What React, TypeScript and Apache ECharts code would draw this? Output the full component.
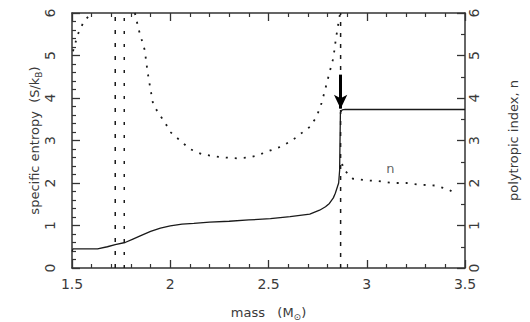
import React, { useEffect, useRef } from "react";
import * as echarts from "echarts";

// Specific entropy (left axis) vs mass
const entropyMass = [1.5, 1.505, 1.63, 1.68, 1.72, 1.77, 1.81, 1.85, 1.9, 1.95, 2.0, 2.06, 2.12, 2.2, 2.3, 2.4, 2.51, 2.61, 2.71, 2.76, 2.79, 2.81, 2.83, 2.84, 2.85, 2.857, 2.862, 2.864, 2.866, 2.875, 2.89, 3.5];
const entropyValue = [0.39, 0.45, 0.45, 0.5, 0.55, 0.6, 0.68, 0.76, 0.86, 0.94, 0.99, 1.03, 1.05, 1.08, 1.1, 1.13, 1.16, 1.21, 1.27, 1.36, 1.44, 1.52, 1.65, 1.76, 1.9, 2.0, 2.3, 3.0, 3.66, 3.72, 3.73, 3.73];

// Polytropic index n (right axis), three branches
const nLeftMass = [1.505, 1.53, 1.56, 1.6];
const nLeftValue = [5.1, 5.5, 5.8, 6.0];
const nMidMass = [1.82, 1.84, 1.87, 1.885, 1.9, 1.912, 1.938, 1.97, 2.0, 2.05, 2.1, 2.16, 2.22, 2.28, 2.34, 2.4, 2.45, 2.5, 2.56, 2.62, 2.67, 2.71, 2.745, 2.77, 2.79, 2.81, 2.83, 2.84, 2.85, 2.86, 2.865];
const nMidValue = [6.0, 5.6, 5.13, 4.6, 4.19, 3.88, 3.65, 3.45, 3.2, 3.0, 2.8, 2.68, 2.63, 2.6, 2.58, 2.6, 2.66, 2.75, 2.85, 3.0, 3.18, 3.32, 3.56, 3.88, 4.23, 4.59, 4.94, 5.29, 5.6, 5.88, 6.0];
const nRightMass = [2.875, 2.88, 2.93, 3.0, 3.05, 3.13, 3.2, 3.27, 3.35, 3.42, 3.44];
const nRightValue = [2.45, 2.33, 2.1, 2.06, 2.05, 2.0, 2.0, 1.96, 1.94, 1.84, 1.78];

// Vertical boundary markers (mass)
const boundaryMass = [1.72, 1.766, 2.867];
const boundaryDash = [[4, 9], [3, 10], [4, 7]];

// Arrow marking the jump
const arrowMass = 2.867;
const arrowFrom = 4.55;
const arrowTo = 3.75;

// "n" label location
const nLabelPos = [3.12, 2.33];

const xTicks = { min: 1.5, max: 3.5, interval: 0.5 };
const yTicks = { min: 0, max: 6, interval: 1 };

const FONT = "DejaVu Sans";
const TEXT = "#3a3a3a";
const INK = "#1a1a1a";

const zip = (a: number[], b: number[]) => a.map((v, i) => [v, b[i]]);

export default function App() {
  const ref = useRef<HTMLDivElement>(null);
  useEffect(() => {
    if (!ref.current) return;
    const chart = echarts.init(ref.current, undefined, { renderer: "svg" });
    const axisLine = { show: true, onZero: false, lineStyle: { color: "#333", width: 1.5 } };
    const nameRich = {
      a: { fontFamily: FONT, fontSize: 13, color: TEXT, lineHeight: 18, verticalAlign: "middle" },
      sub: { fontFamily: FONT, fontSize: 9, color: TEXT, lineHeight: 10, verticalAlign: "bottom" },
    };
    const xBase = {
      type: "value",
      min: xTicks.min,
      max: xTicks.max,
      interval: xTicks.interval,
      axisLine,
      axisTick: { show: true, inside: true, length: 8, lineStyle: { color: "#333", width: 1.3 } },
      minorTick: { show: true, splitNumber: 5, length: 4, lineStyle: { color: "#333", width: 1.2 } },
      splitLine: { show: false },
    };
    const yBase = {
      type: "value",
      min: yTicks.min,
      max: yTicks.max,
      interval: yTicks.interval,
      axisLine,
      axisTick: { show: true, inside: true, length: 8, lineStyle: { color: "#333", width: 1.3 } },
      splitLine: { show: false },
    };
    const series: any[] = [];
    boundaryMass.forEach((m, i) => {
      series.push({
        type: "line",
        xAxisIndex: 0,
        yAxisIndex: 0,
        data: [[m, yTicks.min], [m, yTicks.max]],
        showSymbol: false,
        symbol: "none",
        lineStyle: { color: INK, width: 1.5, type: boundaryDash[i] },
        silent: true,
      });
    });
    [
      [nLeftMass, nLeftValue],
      [nMidMass, nMidValue],
      [nRightMass, nRightValue],
    ].forEach(([mx, vy]) => {
      series.push({
        type: "line",
        xAxisIndex: 0,
        yAxisIndex: 1,
        data: zip(mx, vy),
        showSymbol: false,
        symbol: "none",
        lineStyle: { color: INK, width: 1.8, type: [2, 7] },
        silent: true,
      });
    });
    series.push({
      type: "line",
      xAxisIndex: 0,
      yAxisIndex: 0,
      data: zip(entropyMass, entropyValue),
      showSymbol: false,
      symbol: "none",
      lineStyle: { color: INK, width: 1.3 },
      silent: true,
      markLine: {
        silent: true,
        symbol: ["none", "arrow"],
        symbolSize: [10, 14],
        label: { show: false },
        lineStyle: { color: "#000", width: 3, type: "solid" },
        data: [[{ coord: [arrowMass, arrowFrom] }, { coord: [arrowMass, arrowTo] }]],
      },
    });
    series.push({
      type: "scatter",
      xAxisIndex: 0,
      yAxisIndex: 1,
      data: [nLabelPos],
      symbolSize: 1,
      itemStyle: { color: "rgba(0,0,0,0)" },
      label: { show: true, position: "inside", formatter: "n", fontFamily: FONT, fontSize: 13, color: TEXT },
      silent: true,
    });

    chart.setOption({
      animation: false,
      backgroundColor: "#fff",
      grid: { left: 72, right: 65, top: 13, bottom: 54, containLabel: false, outerBoundsMode: "none" },
      xAxis: [
        {
          ...xBase,
          position: "bottom",
          name: "{a|mass   (M}{sub|⊙}{a|)}",
          nameLocation: "middle",
          nameGap: 35,
          nameMoveOverlap: false,
          nameTextStyle: { rich: nameRich },
          axisLabel: { show: true, margin: 9, fontFamily: FONT, fontSize: 14, color: TEXT },
        },
        {
          ...xBase,
          position: "top",
          axisLabel: { show: false },
        },
      ],
      yAxis: [
        {
          ...yBase,
          position: "left",
          name: "{a|specific entropy  (S/k}{sub|B}{a|)}",
          nameLocation: "middle",
          nameGap: 29,
          nameMoveOverlap: false,
          nameTextStyle: { rich: nameRich },
          minorTick: { show: true, splitNumber: 5, length: 4, lineStyle: { color: "#333", width: 1.2 } },
          axisLabel: { show: true, rotate: 90, margin: 15, fontFamily: FONT, fontSize: 14, color: TEXT },
        },
        {
          ...yBase,
          position: "right",
          name: "polytropic index, n",
          nameLocation: "middle",
          nameGap: 42,
          nameRotate: 90,
          nameMoveOverlap: false,
          nameTextStyle: { fontFamily: FONT, fontSize: 13, color: TEXT },
          minorTick: { show: true, splitNumber: 2, length: 4, lineStyle: { color: "#333", width: 1.2 } },
          axisLabel: { show: true, rotate: 90, margin: 2, fontFamily: FONT, fontSize: 14, color: TEXT },
        },
      ],
      series,
    });
    return () => chart.dispose();
  }, []);
  return <div ref={ref} style={{ width: 530, height: 322, position: "absolute", left: 0, top: 0 }} />;
}
